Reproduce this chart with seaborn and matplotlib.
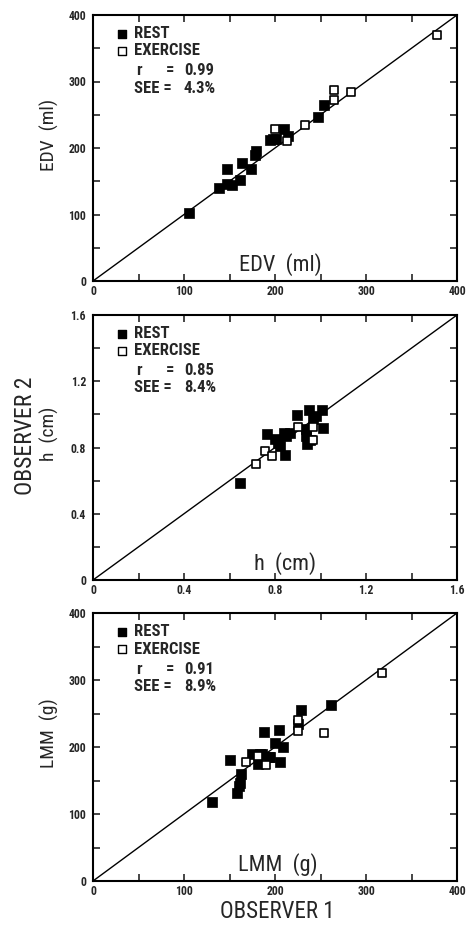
import numpy as np
import pandas as pd
import matplotlib
matplotlib.use("Agg")
import matplotlib.pyplot as plt
import seaborn as sns

# ---------------- data ----------------
edv_rest_x = [105, 138, 147, 147, 153, 161, 164, 174, 178, 179, 194, 198, 201, 210, 214, 247, 254]
edv_rest_y = [103, 140, 169, 146, 144, 152, 177, 169, 190, 195, 212, 213, 213, 228, 218, 247, 265]
edv_ex_x = [200, 213, 233, 265, 265, 283, 378]
edv_ex_y = [228, 210, 234, 287, 272, 284, 370]

h_rest_x = [0.645, 0.764, 0.80, 0.814, 0.82, 0.839, 0.85, 0.865, 0.843, 0.898, 0.948,
            0.937, 0.937, 0.94, 0.965, 0.98, 1.006, 1.01, 0.954]
h_rest_y = [0.584, 0.88, 0.85, 0.83, 0.81, 0.89, 0.87, 0.89, 0.756, 0.996, 1.024,
            0.91, 0.87, 0.82, 0.97, 0.99, 1.024, 0.92, 0.844]
h_ex_x = [0.718, 0.757, 0.786, 0.90, 0.966, 0.966]
h_ex_y = [0.70, 0.78, 0.75, 0.924, 0.924, 0.844]

lmm_rest_x = [131, 151, 158, 160, 161, 163, 175, 181, 183, 188, 186, 193, 195, 200, 204,
              209, 206, 225, 229, 262]
lmm_rest_y = [118, 181, 131, 142, 146, 159, 190, 175, 189, 222, 189, 185, 185, 206, 226,
              200, 178, 234, 255, 262]
lmm_ex_x = [168, 190, 181, 225, 225, 254, 318]
lmm_ex_y = [177, 173, 187, 240, 224, 221, 310]

panel_titles = ["EDV  (ml)", "h  (cm)", "LMM  (g)"]
r_values = ["0.99", "0.85", "0.91"]
see_values = ["4.3%", "8.4%", "8.9%"]
axis_max = [400, 1.6, 400]
major_ticks = [[0, 100, 200, 300, 400], [0, 0.4, 0.8, 1.2, 1.6], [0, 100, 200, 300, 400]]
major_labels = [["0", "100", "200", "300", "400"],
                ["0", "0.4", "0.8", "1.2", "1.6"],
                ["0", "100", "200", "300", "400"]]
minor_ticks = [[50, 150, 250, 350], [0.2, 0.6, 1.0, 1.4], [50, 150, 250, 350]]
legend_labels = ["REST", "EXERCISE"]
fig_xlabel = "OBSERVER 1"
fig_ylabel = "OBSERVER 2"

# ---------------- style ----------------
sns.set_style("ticks")
FAM = ["Roboto Condensed", "Liberation Sans Narrow", "DejaVu Sans Condensed", "Roboto", "DejaVu Sans"]
plt.rcParams["font.family"] = FAM
plt.rcParams["axes.linewidth"] = 1.5

W, H = 471, 925
fig = plt.figure(figsize=(W / 100, H / 100), dpi=100)

panels_px = [(15, 281), (315, 580), (613, 881)]
left_px, right_px = 93, 457
title_x = [0.514, 0.527, 0.508]

datasets = [
    (edv_rest_x, edv_rest_y, edv_ex_x, edv_ex_y),
    (h_rest_x, h_rest_y, h_ex_x, h_ex_y),
    (lmm_rest_x, lmm_rest_y, lmm_ex_x, lmm_ex_y),
]

rows = [0.93, 0.865, 0.79, 0.725]

for i, (top, bot) in enumerate(panels_px):
    ax = fig.add_axes([left_px / W, 1 - bot / H, (right_px - left_px) / W, (bot - top) / H])
    rx, ry, ex, ey = datasets[i]
    m = axis_max[i]

    line_df = pd.DataFrame({"x": [0, m], "y": [0, m]})
    sns.lineplot(data=line_df, x="x", y="y", ax=ax, color="black", lw=1.0)

    rest_df = pd.DataFrame({"x": rx, "y": ry})
    ex_df = pd.DataFrame({"x": ex, "y": ey})
    sns.scatterplot(data=rest_df, x="x", y="y", ax=ax, marker="s", s=45,
                    color="black", edgecolor="black", linewidth=0.5, zorder=3)
    sns.scatterplot(data=ex_df, x="x", y="y", ax=ax, marker="s", s=40,
                    facecolor="white", edgecolor="black", linewidth=1.2, zorder=4)

    ax.set_xlim(0, m)
    ax.set_ylim(0, m)
    ax.set_xticks(major_ticks[i])
    ax.set_yticks(major_ticks[i])
    ax.set_xticks(minor_ticks[i], minor=True)
    ax.set_yticks(minor_ticks[i], minor=True)
    ax.set_xticklabels(major_labels[i], fontweight="bold")
    ax.set_yticklabels(major_labels[i], fontweight="bold")
    ax.tick_params(which="both", direction="in", top=True, right=True,
                   length=5, width=1.2, labelsize=8.5)
    ax.tick_params(axis="x", pad=3)
    ax.tick_params(axis="y", pad=5)
    ax.set_xlabel("")
    ax.set_ylabel(panel_titles[i], fontsize=14)
    ax.yaxis.set_label_coords(-0.093, 0.55)

    # inner x label
    ax.text(title_x[i], 0.062, panel_titles[i], transform=ax.transAxes, ha="center",
            va="center", fontsize=16)

    # legend block
    ax.scatter([0.079], [rows[0]], transform=ax.transAxes, marker="s", s=32,
               color="black", clip_on=False)
    ax.scatter([0.079], [rows[1]], transform=ax.transAxes, marker="s", s=30,
               facecolor="white", edgecolor="black", linewidth=1.0, clip_on=False)
    kw = dict(transform=ax.transAxes, va="center", fontsize=12, fontweight="bold")
    ax.text(0.112, rows[0], legend_labels[0], **kw)
    ax.text(0.112, rows[1], legend_labels[1], **kw)
    ax.text(0.118, rows[2], "r", **kw)
    ax.text(0.2, rows[2], "=", **kw)
    ax.text(0.25, rows[2], r_values[i], **kw)
    ax.text(0.112, rows[3], "SEE =", **kw)
    ax.text(0.25, rows[3], see_values[i], **kw)

    for s in ax.spines.values():
        s.set_visible(True)
        s.set_color("black")

fig.text(26 / W, 1 - 436 / H, fig_ylabel, rotation=90, ha="center", va="center", fontsize=17)
fig.text(277 / W, 1 - 923 / H, fig_xlabel, ha="center", va="bottom", fontsize=16.5)

fig.savefig("out.png", dpi=100)
